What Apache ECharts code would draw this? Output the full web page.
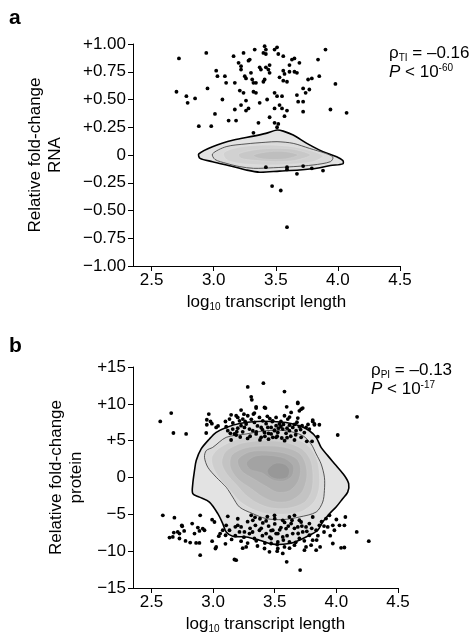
<!DOCTYPE html>
<html>
<head>
<meta charset="utf-8">
<script src="https://cdn.jsdelivr.net/npm/echarts@6/dist/echarts.min.js"></script>
<style>
  html, body { margin: 0; padding: 0; background: #fff; }
  #chart { width: 475px; height: 636px; }
</style>
</head>
<body>
<div id="chart"></div>
<script>
// tick positions
const xTicks = [2.5, 3.0, 3.5, 4.0, 4.5];
const rnaTicks = [-1, -0.75, -0.5, -0.25, 0, 0.25, 0.5, 0.75, 1];
const protTicks = [-15, -10, -5, 0, 5, 10, 15];

// panel a: scatter points [log10 length, relative fold-change RNA]
const rnaPoints = [
  [2.72,0.87],[2.94,0.92],[2.70,0.57],[2.78,0.53],[2.79,0.47],[2.85,0.51],[2.88,0.26],[2.98,0.26],
  [2.95,0.60],[3.01,0.37],[3.07,0.50],[3.02,0.76],[3.03,0.71],[3.09,0.71],[3.10,0.65],[3.12,0.31],
  [3.18,0.31],[3.16,0.89],[3.20,0.83],[3.22,0.80],[3.22,0.77],[3.21,0.58],[3.24,0.56],[3.17,0.65],
  [3.17,0.41],[3.22,0.45],[3.26,0.40],[3.26,0.49],[3.28,0.42],[3.24,0.92],[3.28,0.85],[3.29,0.86],
  [3.33,0.95],[3.25,0.71],[3.26,0.69],[3.30,0.74],[3.31,0.68],[3.32,0.65],[3.34,0.65],[3.32,0.57],
  [3.34,0.56],[3.37,0.47],[3.37,0.79],[3.38,0.77],[3.40,0.92],[3.41,0.98],[3.42,0.95],[3.42,0.91],
  [3.40,0.66],[3.41,0.68],[3.42,0.79],[3.45,0.81],[3.44,0.77],[3.45,0.74],[3.43,0.50],[3.45,0.34],
  [3.36,0.29],[3.32,0.20],[3.49,0.56],[3.51,0.53],[3.49,0.42],[3.49,0.29],[3.51,0.25],[3.52,0.28],
  [3.49,0.95],[3.51,0.97],[3.52,0.91],[3.56,0.89],[3.53,0.70],[3.56,0.76],[3.57,0.73],[3.56,0.67],
  [3.59,0.66],[3.55,0.53],[3.53,0.45],[3.59,0.40],[3.57,0.35],[3.55,0.42],[3.61,0.81],[3.63,0.86],
  [3.65,0.87],[3.61,0.75],[3.65,0.75],[3.67,0.74],[3.69,0.83],[3.67,0.54],[3.68,0.48],[3.72,0.39],
  [3.72,0.48],[3.72,0.60],[3.74,0.56],[3.76,0.68],[3.77,0.59],[3.79,0.69],[3.84,0.86],[3.85,0.71],
  [3.90,0.95],[3.98,0.64],[3.94,0.41],[4.07,0.38],
  [3.42,-0.11],[3.59,-0.11],[3.59,-0.13],[3.67,-0.17],[3.72,-0.10],[3.79,-0.12],[3.88,-0.14],
  [3.47,-0.28],[3.54,-0.32],[3.59,-0.65]
];

// panel a: density contours (outer thick line, inner thin line, then darker levels)
const rnaOuter = [
  [2.88,0.01],[2.99,0.075],[3.16,0.135],[3.32,0.17],[3.42,0.195],[3.51,0.225],[3.56,0.215],[3.64,0.18],
  [3.75,0.105],[3.88,0.03],[3.99,-0.015],[4.04,-0.05],[4.04,-0.08],[3.94,-0.095],[3.83,-0.12],[3.69,-0.135],
  [3.53,-0.145],[3.37,-0.155],[3.26,-0.135],[3.16,-0.105],[2.99,-0.06],[2.89,-0.03]
];
const rnaInner = [
  [2.99,0.01],[3.10,0.075],[3.26,0.10],[3.42,0.115],[3.51,0.12],[3.64,0.105],[3.77,0.06],[3.90,0.015],
  [3.96,-0.02],[3.94,-0.06],[3.80,-0.09],[3.64,-0.105],[3.48,-0.115],[3.32,-0.12],[3.21,-0.105],[3.10,-0.075],
  [3.01,-0.04]
];
const rnaLevel3 = [
  [3.08,0.02],[3.2,0.07],[3.4,0.09],[3.6,0.08],[3.78,0.04],[3.88,-0.01],[3.8,-0.06],[3.6,-0.085],
  [3.4,-0.09],[3.2,-0.075],[3.1,-0.04]
];
const rnaLevel4 = [
  [3.2,0.01],[3.35,0.05],[3.5,0.06],[3.65,0.05],[3.78,0.0],[3.65,-0.05],[3.5,-0.06],[3.35,-0.05],[3.22,-0.03]
];
const rnaLevel5 = [
  [3.32,0.0],[3.45,0.03],[3.58,0.03],[3.68,0.0],[3.58,-0.035],[3.45,-0.04],[3.35,-0.025]
];

// panel b: scatter points [log10 length, relative fold-change protein]
const protPoints = [
  [2.571,7.61],[2.660,8.74],[2.678,6.04],[2.781,5.91],[2.949,7.84],[2.965,8.61],[2.949,7.16],[2.979,7.61],
  [2.944,6.04],[3.025,6.80],[3.281,12.30],[3.309,10.95],[3.314,10.54],[3.408,12.80],[3.579,11.66],[3.425,9.42],
  [3.349,9.42],[3.335,8.74],[3.687,10.18],[3.714,9.28],[3.727,9.42],[3.700,9.05],[4.011,5.77],[4.168,8.24],
  [3.808,7.61],[3.822,7.16],[2.99,7.3],[3.04,7.0],
  [3.146,8.51],[3.133,7.93],[3.187,8.38],[3.200,8.15],[3.227,9.15],[3.214,7.70],[3.241,7.93],[3.268,7.26],
  [3.281,8.38],[3.327,8.61],[3.349,9.59],[3.417,9.50],[3.376,8.15],[3.403,7.70],[3.335,7.47],[3.106,6.89],
  [3.119,6.35],[3.159,6.58],[3.173,5.91],[3.192,6.22],[3.227,7.03],[3.254,6.80],[3.295,6.58],[3.322,6.35],
  [3.349,5.91],[3.390,5.45],[3.417,6.12],[3.444,6.80],[3.471,5.91],[3.498,6.35],[3.511,7.03],[3.511,5.45],
  [3.146,5.09],[3.187,5.77],
  [3.597,9.59],[3.687,10.05],[3.633,8.83],[3.579,8.38],[3.511,8.15],[3.606,7.93],[3.687,8.06],[3.484,7.70],
  [3.538,7.26],[3.471,6.80],[3.498,6.44],[3.525,6.12],[3.565,6.58],[3.592,5.99],[3.619,6.35],[3.646,6.80],
  [3.673,6.35],[3.722,7.03],[3.754,6.80],[3.781,6.58],[3.808,7.79],[3.822,7.26],[3.862,7.16],[3.849,5.54],
  [3.660,5.09],[3.714,5.45],[3.760,4.91],[3.803,4.91],[3.557,5.36],[3.484,5.45],
  [3.36,7.0],[3.43,7.3],[3.45,5.2],[3.3,5.6],[3.26,7.6],[3.55,7.6],[3.62,7.1],[3.4,6.5],
  [3.52,5.6],[3.58,5.0],[3.28,5.3],[3.24,6.2],[3.46,8.0],[3.68,7.5],[3.74,6.1],[3.35,6.2],
  [3.16,7.4],[3.2,6.7],[3.55,6.9],[3.63,5.6],[3.1,7.6],[3.45,6.0],[3.38,5.1],[3.57,7.2],[3.67,5.8],
  [3.31,7.9],[3.39,6.8],[3.48,7.6],[3.53,6.7],[3.6,6.7],[3.66,7.2],[3.71,6.5],[3.77,7.2],
  [3.14,6.0],[3.22,5.5],[3.42,5.6],[3.6,5.4],[3.7,6.9],[3.25,8.6],[3.44,8.3],[3.62,8.2],
  [2.592,-5.14],[2.686,-5.45],[2.895,-5.14],[2.746,-6.49],[2.830,-6.26],[2.681,-7.48],[2.727,-7.61],[2.765,-7.25],
  [2.646,-8.15],[2.776,-8.61],[2.814,-8.83],[2.849,-7.61],[2.876,-6.80],[2.889,-7.25],[2.916,-6.93],[2.930,-7.16],
  [2.862,-8.88],[2.889,-8.88],[2.895,-10.54],[2.992,-5.72],[3.011,-6.04],[2.992,-8.65],[3.025,-9.42],[3.019,-9.64],
  [3.057,-7.61],[3.078,-7.16],[3.046,-7.97],[3.119,-5.27],[3.106,-6.49],[3.133,-7.16],[3.101,-7.84],[3.187,-11.22],
  [3.200,-6.49],[3.227,-6.71],[3.254,-7.39],[3.214,-7.39],[3.227,-8.65],[3.268,-9.42],[3.295,-7.61],[3.309,-5.14],
  [3.322,-5.81],[3.343,-6.49],[3.376,-7.16],[3.335,-8.28],[3.403,-6.17],[3.430,-7.61],[3.417,-9.64],[3.457,-10.09],
  [3.471,-8.28],[3.511,-7.61],[3.525,-8.74],
  [3.498,-5.14],[3.565,-5.81],[3.619,-5.36],[3.660,-5.14],[3.633,-6.26],[3.714,-6.04],[3.687,-6.71],[3.754,-6.71],
  [3.781,-6.26],[3.808,-5.36],[3.836,-7.16],[3.862,-6.49],[3.916,-5.58],[3.944,-5.14],[3.930,-6.71],[3.971,-6.49],
  [3.984,-7.16],[4.025,-6.49],[4.065,-6.49],[4.073,-5.36],[4.165,-7.39],[4.263,-8.65],[3.971,-8.96],[4.038,-9.55],
  [4.065,-9.50],[3.868,-9.42],[3.836,-9.86],[3.795,-9.19],[3.754,-9.42],[3.741,-9.86],[3.660,-9.19],[3.619,-8.74],
  [3.579,-9.42],[3.525,-9.64],[3.565,-10.31],[3.597,-11.45],[3.706,-12.57],[3.471,-8.96],[3.484,-7.16],[3.525,-7.61],
  [3.592,-6.93],[3.565,-8.07],[3.646,-7.61],[3.700,-8.28],[3.727,-7.39],[3.781,-7.84],[3.808,-8.51],
  [2.673,-8.07],[2.713,-7.39],[2.727,-8.28],[2.749,-6.62],[3.173,-11.13],
  [3.3,-6.9],[3.35,-8.6],[3.4,-7.9],[3.45,-6.6],[3.38,-5.6],[3.44,-5.3],[3.5,-6.3],[3.55,-6.8],
  [3.6,-7.9],[3.67,-8.8],[3.72,-6.6],[3.76,-7.3],[3.85,-7.9],[3.9,-7.4],[3.18,-7.9],[3.15,-8.4],
  [3.25,-8.1],[3.28,-6.0],[3.42,-8.9],[3.52,-9.1],[3.62,-9.6],[3.7,-5.8],[3.88,-6.0],[3.95,-7.9],
  [3.1,-9.0],[3.36,-9.3],[3.47,-7.2],[3.58,-6.1],[3.66,-6.9],[3.8,-6.9],[4.0,-5.7],[3.2,-5.6],
  [3.34,-5.4],[3.24,-9.6],
  [3.32,-7.4],[3.39,-6.9],[3.46,-8.1],[3.54,-7.1],[3.61,-6.6],[3.69,-7.6],[3.74,-8.6],[3.84,-8.5],
  [3.18,-6.7],[3.28,-8.9],[3.5,-5.6],[3.57,-8.5],[3.64,-5.8],[3.9,-6.6],[3.43,-5.9],[3.52,-10.0]
];

// panel b: density contours
const protOuter = [
  [3.106,6.8],[3.214,7.34],[3.349,7.61],[3.484,7.61],[3.592,7.47],[3.700,7.03],[3.781,6.35],[3.836,5.45],
  [3.876,4.09],[3.930,2.97],[3.998,1.62],[4.065,0.27],[4.100,-0.85],[4.092,-1.99],[4.051,-2.88],[3.998,-4.01],
  [3.944,-4.91],[3.889,-6.04],[3.849,-7.16],[3.781,-7.84],[3.700,-8.51],[3.619,-8.96],[3.484,-9.05],[3.376,-8.51],
  [3.268,-8.07],[3.159,-7.97],[3.106,-7.39],[3.078,-6.26],[3.038,-4.91],[2.970,-3.34],[2.889,-2.66],[2.835,-2.20],
  [2.835,-0.85],[2.849,0.95],[2.863,2.30],[2.903,3.88],[2.970,5.23],[3.025,6.12]
];
const protInner = [
  [2.997,4.09],[3.106,5.45],[3.268,5.91],[3.430,6.35],[3.592,6.35],[3.727,5.68],[3.795,4.55],[3.836,3.20],
  [3.876,1.85],[3.903,0.04],[3.903,-1.76],[3.889,-3.34],[3.836,-4.69],[3.700,-5.36],[3.565,-5.72],[3.430,-5.58],
  [3.322,-4.91],[3.214,-4.01],[3.159,-2.66],[3.106,-1.31],[3.025,0.04],[2.957,1.39],[2.930,2.74],[2.944,3.65]
];
const protLevel3 = [
  [3.05,4.0],[3.2,5.2],[3.4,5.6],[3.6,5.5],[3.75,4.6],[3.83,3.0],[3.86,1.0],[3.86,-1.5],[3.82,-3.3],
  [3.72,-4.6],[3.57,-5.0],[3.43,-4.9],[3.32,-4.3],[3.22,-3.3],[3.15,-2.0],[3.06,-0.3],[3.0,1.4],[2.99,2.8]
];
const protLevel4 = [
  [3.1,3.5],[3.22,4.6],[3.4,5.0],[3.58,4.8],[3.72,3.9],[3.79,2.4],[3.81,0.5],[3.8,-1.8],[3.74,-3.4],
  [3.6,-4.2],[3.46,-4.1],[3.35,-3.4],[3.26,-2.3],[3.19,-1.0],[3.11,0.5],[3.07,2.0]
];
const protLevel5 = [
  [3.15,3.0],[3.26,4.0],[3.42,4.3],[3.58,4.1],[3.7,3.3],[3.75,1.9],[3.76,0],[3.72,-2.0],[3.62,-3.2],
  [3.5,-3.3],[3.4,-2.6],[3.3,-1.4],[3.2,-0.2],[3.14,1.4]
];
const protLevel6 = [
  [3.2,2.4],[3.3,3.5],[3.44,3.6],[3.58,3.3],[3.68,2.5],[3.71,1.2],[3.69,-0.5],[3.62,-1.8],[3.52,-2.0],
  [3.43,-1.2],[3.33,-0.2],[3.23,0.9]
];
const protLevel7 = [
  [3.27,2.0],[3.34,2.9],[3.46,3.0],[3.58,2.6],[3.65,1.6],[3.64,0.2],[3.57,-0.5],[3.48,-0.3],[3.4,0.6],[3.3,1.1]
];
const protLevel8 = [
  [3.44,1.0],[3.5,1.9],[3.58,1.8],[3.62,1.0],[3.6,0.0],[3.52,-0.2],[3.46,0.2]
];

const FONT = 'Liberation Sans, Arial, sans-serif';

// a filled contour drawn as one polygon through the axis scales
function contour(grid, pts, fill, stroke, lw) {
  return {
    type: 'custom',
    xAxisIndex: grid, yAxisIndex: grid,
    silent: true,
    data: [pts[0]],
    renderItem: function (params, api) {
      return {
        type: 'polygon',
        shape: { points: pts.map(p => api.coord(p)), smooth: 0.3 },
        style: { fill: fill, stroke: stroke, lineWidth: lw }
      };
    }
  };
}

function signed(v, digits) {
  if (v === 0) return '0';
  return (v > 0 ? '+' : '\u2212') + Math.abs(v).toFixed(digits);
}

function xAxisOf(grid) {
  return {
    type: 'value', gridIndex: grid, min: 2.35, max: 4.5,
    name: '{n|log}{s|10}{n| transcript length}',
    nameLocation: 'middle', nameGap: 26,
    nameTextStyle: {
      rich: {
        n: { fontFamily: FONT, fontSize: 17, color: '#000', lineHeight: 20 },
        s: { fontFamily: FONT, fontSize: 10, color: '#000', verticalAlign: 'bottom', lineHeight: 10 }
      }
    },
    axisLine: { onZero: false, lineStyle: { color: '#000', width: 1 } },
    axisTick: { length: 5, lineStyle: { color: '#000' }, customValues: xTicks },
    axisLabel: { customValues: xTicks, formatter: v => v.toFixed(1), color: '#000', fontFamily: FONT, fontSize: 17, margin: 6 },
    splitLine: { show: false }
  };
}

function yAxisOf(grid, min, max, ticks, digits, name, gap) {
  return {
    type: 'value', gridIndex: grid, min: min, max: max,
    name: name, nameLocation: 'middle', nameGap: gap,
    nameTextStyle: { fontFamily: FONT, fontSize: 17, color: '#000', lineHeight: 20 },
    axisLine: { show: true, onZero: false, lineStyle: { color: '#000', width: 1 } },
    axisTick: { show: true, length: 5, lineStyle: { color: '#000' }, customValues: ticks },
    axisLabel: { customValues: ticks, formatter: v => signed(v, digits), color: '#000', fontFamily: FONT, fontSize: 17, margin: 7 },
    splitLine: { show: false }
  };
}

function scatter(grid, pts) {
  return {
    type: 'scatter', xAxisIndex: grid, yAxisIndex: grid,
    data: pts, symbolSize: 3.8, z: 5,
    itemStyle: { color: '#000', opacity: 1 }, silent: true
  };
}

const statRich = {
  m: { fontFamily: FONT, fontSize: 17, color: '#000', lineHeight: 19 },
  i: { fontFamily: FONT, fontSize: 17, color: '#000', fontStyle: 'italic', lineHeight: 19 },
  sub: { fontFamily: FONT, fontSize: 10, color: '#000', verticalAlign: 'bottom', lineHeight: 10 },
  sup: { fontFamily: FONT, fontSize: 10, color: '#000', verticalAlign: 'top', lineHeight: 10 }
};

const option = {
  animation: false,
  backgroundColor: '#fff',
  grid: [
    { left: 133, top: 44, width: 267, height: 222 },
    { left: 133, top: 367, width: 265, height: 221 }
  ],
  xAxis: [xAxisOf(0), xAxisOf(1)],
  yAxis: [
    yAxisOf(0, -1, 1, rnaTicks, 2, 'Relative fold-change\nRNA', 68),
    yAxisOf(1, -15, 15, protTicks, 0, 'Relative fold-change\nprotein', 40)
  ],
  graphic: [
    { type: 'text', left: 9, top: 8, style: { text: 'a', fontFamily: FONT, fontSize: 21, fontWeight: 'bold', fill: '#000' } },
    { type: 'text', left: 9, top: 336, style: { text: 'b', fontFamily: FONT, fontSize: 21, fontWeight: 'bold', fill: '#000' } },
    { type: 'text', left: 389, top: 45, style: { text: '{m|\u03C1}{sub|TI}{m| = \u20130.16}\n{i|P}{m| < 10}{sup|-60}', rich: statRich } },
    { type: 'text', left: 371, top: 362, style: { text: '{m|\u03C1}{sub|PI}{m| = \u20130.13}\n{i|P}{m| < 10}{sup|-17}', rich: statRich } }
  ],
  series: [
    contour(0, rnaOuter, '#e3e3e3', '#000', 1.6),
    contour(0, rnaInner, '#dadada', '#333', 0.8),
    contour(0, rnaLevel3, '#d1d1d1', '#e2e2e2', 0.5),
    contour(0, rnaLevel4, '#c8c8c8', '#dadada', 0.5),
    contour(0, rnaLevel5, '#bebebe', '#d0d0d0', 0.5),
    scatter(0, rnaPoints),
    contour(1, protOuter, '#e3e3e3', '#000', 1.6),
    contour(1, protInner, '#d9d9d9', '#333', 0.8),
    contour(1, protLevel3, '#cecece', '#e0e0e0', 0.5),
    contour(1, protLevel4, '#c3c3c3', '#d6d6d6', 0.5),
    contour(1, protLevel5, '#b8b8b8', '#cbcbcb', 0.5),
    contour(1, protLevel6, '#adadad', '#c0c0c0', 0.5),
    contour(1, protLevel7, '#a3a3a3', '#b5b5b5', 0.5),
    contour(1, protLevel8, '#989898', '#aaaaaa', 0.5),
    scatter(1, protPoints)
  ]
};

const chart = echarts.init(document.getElementById('chart'), null, { renderer: 'canvas' });
chart.setOption(option);
</script>
</body>
</html>
